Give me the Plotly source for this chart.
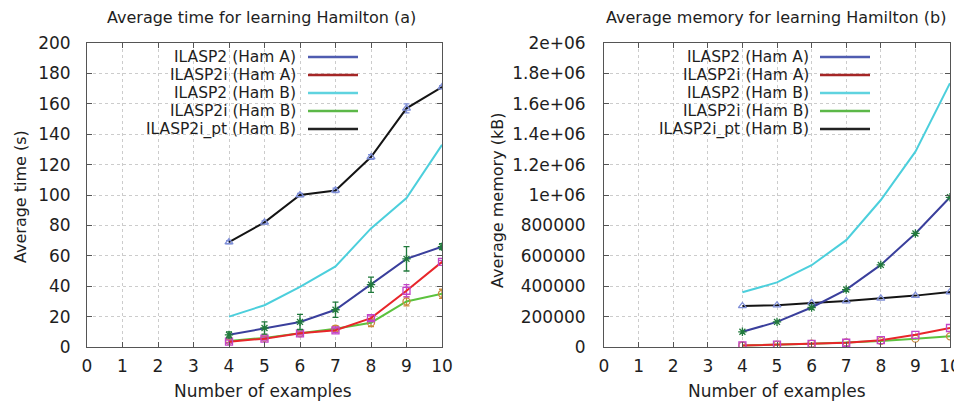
import plotly.graph_objects as go

# the page body adds an 8px margin; the figure is sized/positioned to compensate
OFF = 8
W, H = 962 - OFF, 403 - OFF

examples = [4, 5, 6, 7, 8, 9, 10]

# (a) average time (s)
time_ilasp2_A = [8, 12.5, 16.5, 24.5, 41, 58, 66]
time_ilasp2_A_err = [2, 4, 5, 5, 5, 8, 2]
time_ilasp2i_A = [3.5, 5.5, 9, 11, 19, 37, 56]
time_ilasp2i_A_err = [1, 1, 1, 1.5, 1.5, 4, 1]
time_ilasp2_B = [20, 27.5, 39.5, 53, 78, 98, 133]
time_ilasp2i_B = [4, 6, 9, 12, 16, 30, 35]
time_ilasp2i_B_err = [1, 1, 1, 2, 2.5, 3, 3]
time_ilasp2ipt_B = [69, 82, 100, 103, 125, 157, 171]
time_ilasp2ipt_B_err = [1, 1, 1, 1.5, 1.5, 3, 1]

# (b) average memory (kB)
mem_ilasp2_A = [100000, 165000, 260000, 378000, 540000, 747000, 985000]
mem_ilasp2i_A = [10000, 15000, 20000, 28000, 45000, 80000, 125000]
mem_ilasp2_B = [360000, 425000, 538000, 703000, 967000, 1285000, 1736000]
mem_ilasp2i_B = [10000, 15000, 22000, 30000, 40000, 55000, 70000]
mem_ilasp2ipt_B = [270000, 275000, 290000, 302000, 320000, 338000, 362000]

series_names = ["ILASP2 (Ham A)", "ILASP2i (Ham A)", "ILASP2 (Ham B)",
                "ILASP2i (Ham B)", "ILASP2i_pt (Ham B)"]
line_colors = ["#3a3f9c", "#e8262a", "#4ccfdc", "#5cc23e", "#141414"]
legend_colors = ["#4f5cb0", "#a52626", "#5fd3df", "#5cb848", "#222222"]
marker_colors = ["#217a3c", "#c244c8", None, "#c98a3c", "#7f8fd8"]
marker_symbols = ["asterisk-open", "square-open", None, "circle-open", "triangle-up-open"]

x_tick_vals = list(range(0, 11))
time_tick_vals = list(range(0, 201, 20))
mem_tick_vals = [0, 200000, 400000, 600000, 800000, 1000000, 1200000,
                 1400000, 1600000, 1800000, 2000000]
mem_tick_text = ["0", "200000", "400000", "600000", "800000", "1e+06",
                 "1.2e+06", "1.4e+06", "1.6e+06", "1.8e+06", "2e+06"]

FONT = "DejaVu Sans, Liberation Sans, sans-serif"
TXT = "#1e1e1e"

fig = go.Figure()


def add(y, idx, xa, ya, err=None):
    kw = {}
    mode = "lines"
    if marker_symbols[idx]:
        mode = "lines+markers"
        kw["marker"] = dict(symbol=marker_symbols[idx], color=marker_colors[idx],
                            size=7, line=dict(width=1.3, color=marker_colors[idx]))
    if err is not None:
        kw["error_y"] = dict(type="data", array=err, visible=True,
                             color=marker_colors[idx], thickness=1.3, width=3)
    fig.add_trace(go.Scatter(x=examples, y=y, mode=mode, name=series_names[idx],
                             line=dict(color=line_colors[idx], width=2),
                             xaxis=xa, yaxis=ya, showlegend=False, **kw))


# left
add(time_ilasp2_B, 2, "x", "y")
add(time_ilasp2ipt_B, 4, "x", "y", time_ilasp2ipt_B_err)
add(time_ilasp2i_B, 3, "x", "y", time_ilasp2i_B_err)
add(time_ilasp2i_A, 1, "x", "y", time_ilasp2i_A_err)
add(time_ilasp2_A, 0, "x", "y", time_ilasp2_A_err)
# right
add(mem_ilasp2_B, 2, "x2", "y2")
add(mem_ilasp2ipt_B, 4, "x2", "y2")
add(mem_ilasp2i_B, 3, "x2", "y2")
add(mem_ilasp2i_A, 1, "x2", "y2")
add(mem_ilasp2_A, 0, "x2", "y2")

# screen pixel -> paper fraction
px = lambda v: (v - OFF) / W
py = lambda v: 1 - (v - OFF) / H

axis_common = dict(
    showline=True, linecolor="#555555", linewidth=1, mirror="ticks",
    ticks="inside", ticklen=5, tickcolor="#555555", automargin=False,
    showgrid=True, gridcolor="#cccccc", griddash="dot", gridwidth=1,
    zeroline=False, tickfont=dict(family=FONT, size=17, color=TXT),
)

fig.update_layout(
    width=W, height=H,
    margin=dict(l=0, r=0, t=0, b=0, autoexpand=False),
    paper_bgcolor="white", plot_bgcolor="white",
    xaxis=dict(domain=[px(87), px(442)], range=[0, 10], tickvals=x_tick_vals,
               anchor="y", ticklabelstandoff=4, **axis_common),
    yaxis=dict(domain=[py(347), py(43)], range=[0, 200], tickvals=time_tick_vals,
               anchor="x", ticklabelstandoff=12, **axis_common),
    xaxis2=dict(domain=[px(604), px(950)], range=[0, 10], tickvals=x_tick_vals,
                anchor="y2", ticklabelstandoff=4, **axis_common),
    yaxis2=dict(domain=[py(347), py(43)], range=[0, 2000000], tickvals=mem_tick_vals,
                ticktext=mem_tick_text, anchor="x2", ticklabelstandoff=14, **axis_common),
)

annotations = []
shapes = []
title_font = dict(family=FONT, size=16, color=TXT)
axis_title_font = dict(family=FONT, size=17, color=TXT)

annotations.append(dict(text="Average time for learning Hamilton (a)", x=px(261), y=py(17),
                        xref="paper", yref="paper", showarrow=False, font=title_font,
                        xanchor="center", yanchor="middle"))
annotations.append(dict(text="Average memory for learning Hamilton (b)", x=px(776), y=py(17),
                        xref="paper", yref="paper", showarrow=False, font=title_font,
                        xanchor="center", yanchor="middle"))
for cx in (263, 777):
    annotations.append(dict(text="Number of examples", x=px(cx), y=py(391),
                            xref="paper", yref="paper", showarrow=False, font=axis_title_font,
                            xanchor="center", yanchor="middle"))
annotations.append(dict(text="Average time (s)", x=px(20), y=py(197), textangle=-90,
                        xref="paper", yref="paper", showarrow=False,
                        font=dict(family=FONT, size=16, color=TXT),
                        xanchor="center", yanchor="middle"))
annotations.append(dict(text="Average memory (kB)", x=px(498), y=py(200), textangle=-90,
                        xref="paper", yref="paper", showarrow=False,
                        font=dict(family=FONT, size=16, color=TXT),
                        xanchor="center", yanchor="middle"))

# gnuplot-style keys (text right-aligned, sample line on the right)
rows = [57, 75, 93, 111, 129]
for text_right, l0, l1 in ((297, 308, 358), (810, 820, 870)):
    for i, ry in enumerate(rows):
        annotations.append(dict(text=series_names[i], x=px(text_right), y=py(ry),
                                xref="paper", yref="paper", showarrow=False,
                                font=dict(family=FONT, size=15.5, color=TXT),
                                xanchor="right", yanchor="middle", borderpad=0))
        shapes.append(dict(type="line", xref="paper", yref="paper",
                           x0=px(l0), x1=px(l1), y0=py(ry), y1=py(ry),
                           line=dict(color=legend_colors[i], width=2.5)))

fig.update_layout(annotations=annotations, shapes=shapes)
fig.write_html("out.html")
